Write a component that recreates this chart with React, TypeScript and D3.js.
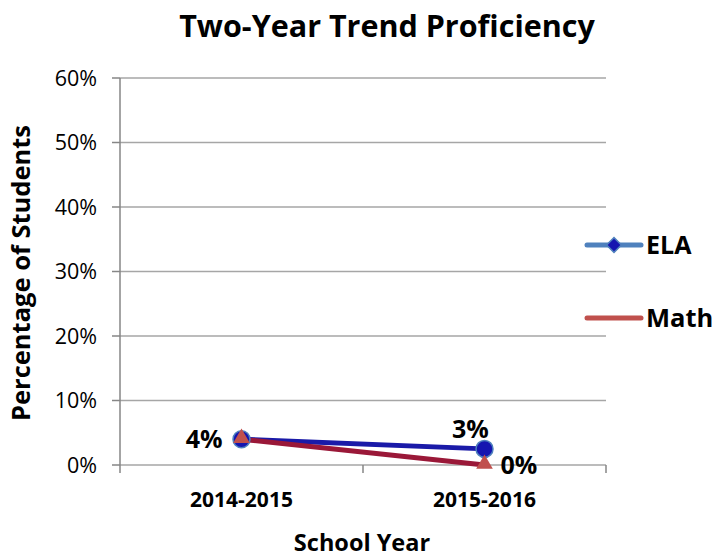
import React from "react";
import * as d3 from "d3";

const categories = ["2014-2015", "2015-2016"];
const elaValues = [0.04, 0.025];
const mathValues = [0.04, 0.0];
const elaLabels = ["4%", "3%"];
const mathLabels = ["", "0%"];
const yTicks = [0, 0.1, 0.2, 0.3, 0.4, 0.5, 0.6];

const W = 717;
const H = 557;
const FONT = "'Open Sans', 'Noto Sans', sans-serif";

export default function App() {
  const left = 120, right = 606, top = 78, bottom = 465;
  const x = d3.scaleBand<string>().domain(categories).range([left, right]);
  const y = d3.scaleLinear().domain([0, 0.6]).range([bottom, top]);
  const cx = (c: string) => (x(c) as number) + x.bandwidth() / 2;
  const line = d3.line<number>().x((_, i) => cx(categories[i])).y((d) => y(d));
  const fmt = d3.format(".0%");
  const tri = d3.symbol().type(d3.symbolTriangle).size(120);
  const diamond = d3.symbol().type(d3.symbolSquare).size(110);

  return (
    <svg width={W} height={H} style={{ display: "block", position: "absolute", left: 0, top: 0 }} fontFamily={FONT}>
      <rect width={W} height={H} fill="#fff" />
      <text x={387} y={37} textAnchor="middle" fontSize={30.5} fontWeight="bold" fill="#000">Two-Year Trend Proficiency</text>
      {yTicks.map((t) => (
        <g key={t}>
          <line x1={left} x2={right} y1={y(t)} y2={y(t)} stroke="#a6a6a6" strokeWidth={1.5} />
          <line x1={left - 8} x2={left} y1={y(t)} y2={y(t)} stroke="#868686" strokeWidth={1.5} />
          <text x={97} y={y(t) + 7.5} textAnchor="end" fontSize={21.5} fill="#000">{fmt(t)}</text>
        </g>
      ))}
      <line x1={left} x2={left} y1={top} y2={bottom} stroke="#868686" strokeWidth={1.5} />
      {[0, 1, 2].map((i) => {
        const xx = left + i * x.bandwidth();
        return <line key={i} x1={xx} x2={xx} y1={bottom} y2={bottom + 8} stroke="#868686" strokeWidth={1.5} />;
      })}
      {categories.map((c) => (
        <text key={c} x={cx(c)} y={507} textAnchor="middle" fontSize={21} fontWeight="bold">{c}</text>
      ))}
      <text x={362} y={551} textAnchor="middle" fontSize={23.5} fontWeight="bold">School Year</text>
      <text transform={`translate(30,273) rotate(-90)`} textAnchor="middle" fontSize={25.5} fontWeight="bold">Percentage of Students</text>

      <path d={line(elaValues) as string} fill="none" stroke="#1a1aa8" strokeWidth={5} />
      <path d={line(mathValues) as string} fill="none" stroke="#9a1838" strokeWidth={5} />
      {elaValues.map((v, i) => (
        <circle key={i} cx={cx(categories[i])} cy={y(v)} r={8.5} fill="#1515b0" stroke="#4f81bd" strokeWidth={1.5} />
      ))}
      {mathValues.map((v, i) => (
        <path key={i} d={tri() as string} transform={`translate(${cx(categories[i])},${y(v) - 1})`} fill="#c0504d" />
      ))}
      <text x={cx(categories[0]) - 19} y={y(elaValues[0]) + 9} textAnchor="end" fontSize={25} fontWeight="bold">{elaLabels[0]}</text>
      <text x={cx(categories[1]) - 14} y={y(elaValues[1]) - 11} textAnchor="middle" fontSize={25} fontWeight="bold">{elaLabels[1]}</text>
      <text x={cx(categories[1]) + 16} y={y(mathValues[1]) + 9} textAnchor="start" fontSize={25} fontWeight="bold">{mathLabels[1]}</text>

      <line x1={587} x2={641} y1={245} y2={245} stroke="#4f81bd" strokeWidth={5} strokeLinecap="round" />
      <path d={diamond() as string} transform="translate(614,245) rotate(45)" fill="#1515b0" stroke="#4f81bd" strokeWidth={1.5} />
      <text x={646} y={254} fontSize={25} fontWeight="bold">ELA</text>
      <line x1={587} x2={641} y1={318} y2={318} stroke="#c0504d" strokeWidth={5} strokeLinecap="round" />
      <text x={646} y={327} fontSize={25.5} fontWeight="bold">Math</text>
    </svg>
  );
}
